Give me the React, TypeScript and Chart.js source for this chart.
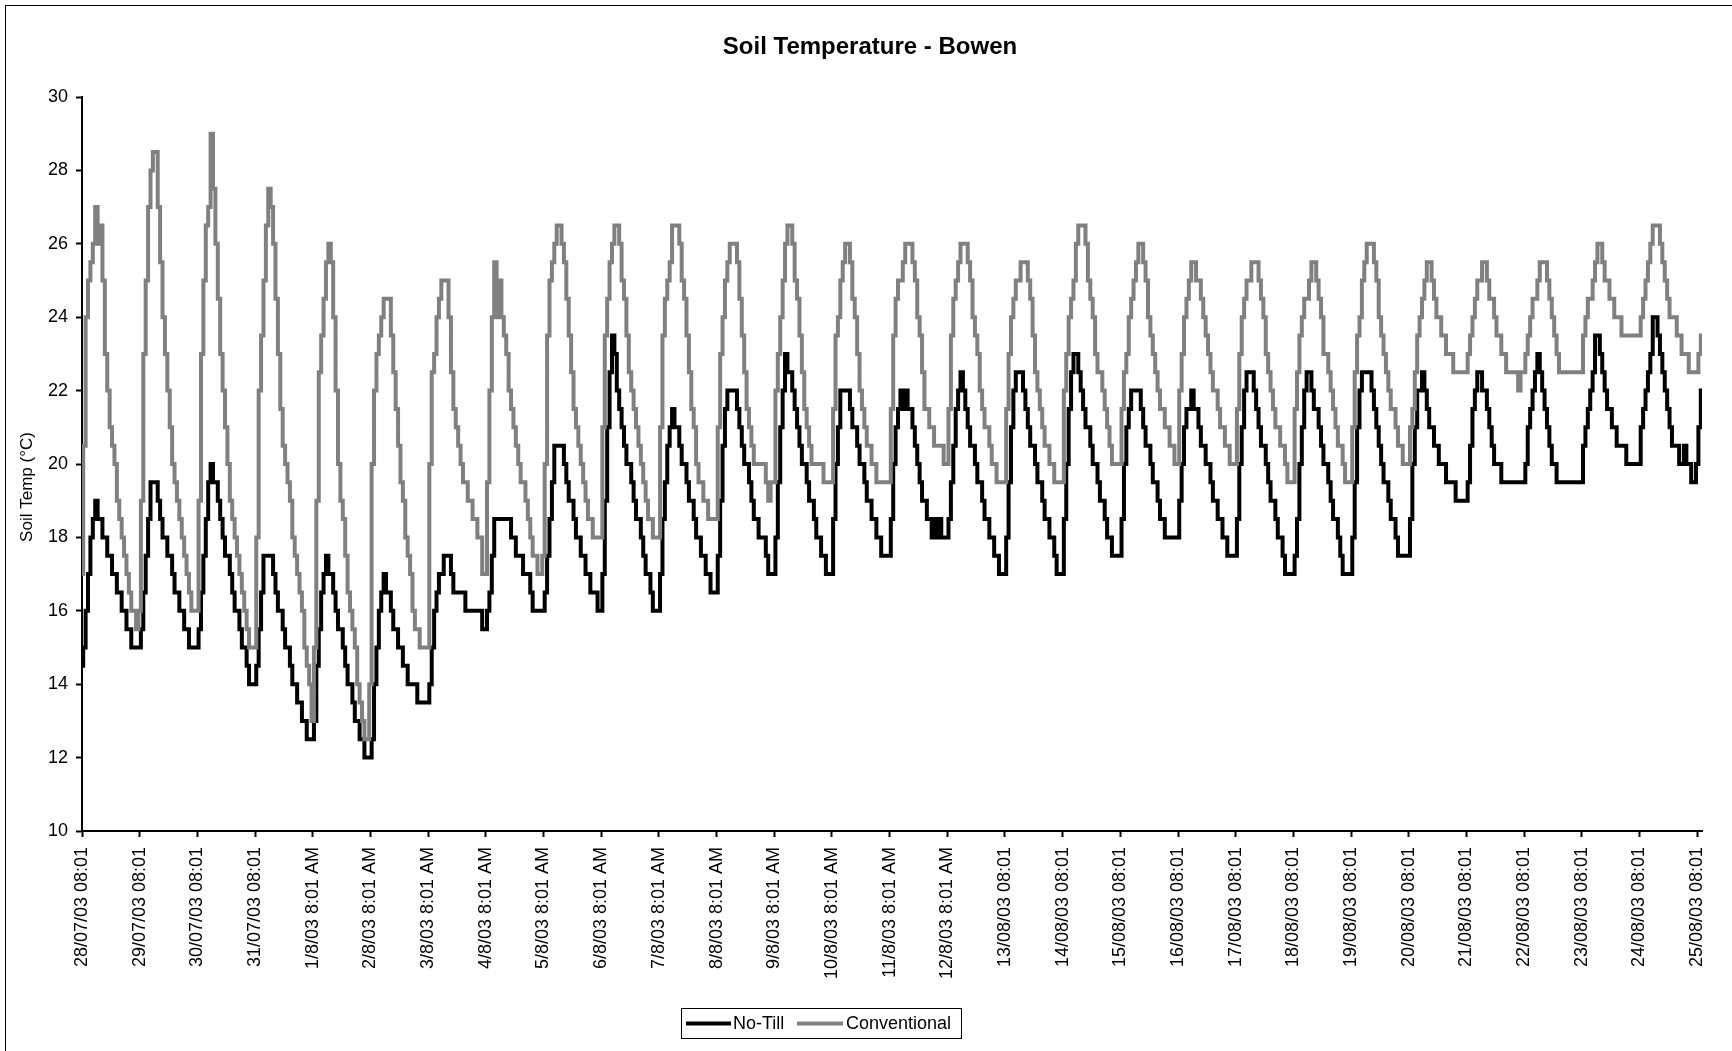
import { useEffect, useRef } from 'react';
import { Chart, registerables } from 'chart.js';

Chart.register(...registerables);

const FONT = '"Liberation Sans", Arial, sans-serif';
const CHART_TITLE = 'Soil Temperature - Bowen';
const Y_AXIS_TITLE = 'Soil Temp (°C)';
const SERIES_NAMES = ['No-Till', 'Conventional'];
const SERIES_COLORS = ['#000000', '#808080'];

// One label per day; readings are hourly, starting at 08:01 each day.
const HOURS_PER_DAY = 24;
const dayLabels = [
  '28/07/03 08:01', '29/07/03 08:01', '30/07/03 08:01', '31/07/03 08:01',
  '1/8/03 8:01 AM', '2/8/03 8:01 AM', '3/8/03 8:01 AM', '4/8/03 8:01 AM',
  '5/8/03 8:01 AM', '6/8/03 8:01 AM', '7/8/03 8:01 AM', '8/8/03 8:01 AM',
  '9/8/03 8:01 AM', '10/8/03 8:01 AM', '11/8/03 8:01 AM', '12/8/03 8:01 AM',
  '13/08/03 08:01', '14/08/03 08:01', '15/08/03 08:01', '16/08/03 08:01',
  '17/08/03 08:01', '18/08/03 08:01', '19/08/03 08:01', '20/08/03 08:01',
  '21/08/03 08:01', '22/08/03 08:01', '23/08/03 08:01', '24/08/03 08:01',
  '25/08/03 08:01',
];

const yTicks = [10, 12, 14, 16, 18, 20, 22, 24, 26, 28, 30];

// Hourly soil temperature (°C), No-Till plot
const noTill = [
  14.5, 15, 16, 17, 18, 18.5, 19, 18.5, 18.5, 18, 18, 17.5, 17.5, 17, 17, 16.5, 16.5, 16, 16, 15.5, 15.5, 15, 15, 15, // 28/07
  15, 15.5, 16.5, 17.5, 18.5, 19.5, 19.5, 19.5, 19, 18.5, 18, 18, 17.5, 17.5, 17, 16.5, 16.5, 16, 16, 15.5, 15.5, 15, 15, 15, // 29/07
  15, 15.5, 16.5, 17.5, 18.5, 19.5, 20, 19.5, 19.5, 19, 18.5, 18, 17.5, 17.5, 17, 16.5, 16, 16, 15.5, 15, 15, 14.5, 14, 14, // 30/07
  14, 14.5, 15.5, 16.5, 17.5, 17.5, 17.5, 17.5, 17, 16.5, 16, 16, 15.5, 15, 15, 14.5, 14, 14, 13.5, 13.5, 13, 13, 12.5, 12.5, // 31/07
  12.5, 13, 14.5, 15.5, 16.5, 17, 17.5, 17, 17, 16.5, 16, 15.5, 15.5, 15, 14.5, 14, 14, 13.5, 13, 13, 12.5, 12.5, 12, 12, // 1/8
  12, 12.5, 14, 15, 16, 16.5, 17, 16.5, 16.5, 16, 15.5, 15.5, 15, 15, 14.5, 14.5, 14, 14, 14, 14, 13.5, 13.5, 13.5, 13.5, // 2/8
  13.5, 14, 15, 16, 16.5, 17, 17, 17.5, 17.5, 17.5, 17, 16.5, 16.5, 16.5, 16.5, 16.5, 16, 16, 16, 16, 16, 16, 16, 15.5, // 3/8
  15.5, 16, 16.5, 17.5, 18.5, 18.5, 18.5, 18.5, 18.5, 18.5, 18.5, 18, 18, 17.5, 17.5, 17.5, 17, 17, 17, 16.5, 16, 16, 16, 16, // 4/8
  16, 16.5, 17.5, 18.5, 19.5, 20.5, 20.5, 20.5, 20.5, 20, 19.5, 19, 19, 18.5, 18, 18, 17.5, 17.5, 17, 17, 16.5, 16.5, 16.5, 16, // 5/8
  16, 17, 19, 21, 22.5, 23.5, 23, 22, 21.5, 21, 20.5, 20, 20, 19.5, 19, 18.5, 18.5, 18, 17.5, 17, 17, 16.5, 16, 16, // 6/8
  16, 17, 18.5, 19.5, 20.5, 21, 21.5, 21, 21, 20.5, 20, 20, 19.5, 19, 19, 18.5, 18, 18, 17.5, 17.5, 17, 17, 16.5, 16.5, // 7/8
  16.5, 17.5, 19, 20.5, 21.5, 22, 22, 22, 22, 21.5, 21, 20.5, 20, 20, 19.5, 19, 18.5, 18.5, 18, 18, 18, 17.5, 17, 17, // 8/8
  17, 18, 19.5, 21, 22, 23, 22.5, 22.5, 22, 21.5, 21, 20.5, 20, 20, 19.5, 19, 19, 18.5, 18, 18, 17.5, 17.5, 17, 17, // 9/8
  17, 18.5, 20, 21, 22, 22, 22, 22, 21.5, 21, 21, 20.5, 20, 20, 19.5, 19, 19, 18.5, 18.5, 18, 18, 17.5, 17.5, 17.5, // 10/8
  17.5, 18.5, 20, 21, 21.5, 22, 21.5, 22, 21.5, 21.5, 21, 20.5, 20, 19.5, 19, 19, 18.5, 18.5, 18, 18.5, 18, 18.5, 18, 18, // 11/8
  18, 18.5, 19.5, 20.5, 21.5, 22, 22.5, 22, 21.5, 21, 20.5, 20.5, 20, 19.5, 19.5, 19, 18.5, 18.5, 18, 18, 17.5, 17.5, 17, 17, // 12/8
  17, 18, 19.5, 21, 22, 22.5, 22.5, 22.5, 22, 21.5, 21, 20.5, 20.5, 20, 19.5, 19.5, 19, 18.5, 18.5, 18, 18, 17.5, 17, 17, // 13/08
  17, 18.5, 20, 21.5, 22.5, 23, 23, 22.5, 22, 21.5, 21, 21, 20.5, 20, 20, 19.5, 19, 19, 18.5, 18, 18, 17.5, 17.5, 17.5, // 14/08
  17.5, 18.5, 20, 21, 21.5, 22, 22, 22, 22, 21.5, 21, 20.5, 20.5, 20, 19.5, 19.5, 19, 18.5, 18.5, 18, 18, 18, 18, 18, // 15/08
  18, 19, 20, 21, 21.5, 21.5, 22, 21.5, 21.5, 21, 20.5, 20.5, 20, 20, 19.5, 19, 19, 18.5, 18.5, 18, 18, 17.5, 17.5, 17.5, // 16/08
  17.5, 18.5, 20, 21, 22, 22.5, 22.5, 22.5, 22, 21.5, 21, 20.5, 20.5, 20, 19.5, 19, 19, 18.5, 18, 18, 17.5, 17, 17, 17, // 17/08
  17, 17.5, 18.5, 20, 21, 22, 22.5, 22.5, 22, 21.5, 21.5, 21, 20.5, 20, 20, 19.5, 19, 18.5, 18.5, 18, 17.5, 17, 17, 17, // 18/08
  17, 18, 19.5, 21, 22, 22.5, 22.5, 22.5, 22.5, 22, 21.5, 21, 20.5, 20, 19.5, 19.5, 19, 18.5, 18.5, 18, 17.5, 17.5, 17.5, 17.5, // 19/08
  17.5, 18.5, 20, 21, 22, 22, 22.5, 22, 21.5, 21, 21, 20.5, 20.5, 20, 20, 20, 19.5, 19.5, 19.5, 19.5, 19, 19, 19, 19, // 20/08
  19, 19.5, 20.5, 21.5, 22, 22.5, 22.5, 22, 22, 21.5, 21, 20.5, 20, 20, 20, 19.5, 19.5, 19.5, 19.5, 19.5, 19.5, 19.5, 19.5, 19.5, // 21/08
  19.5, 20, 21, 21.5, 22, 22.5, 23, 22.5, 22, 21.5, 21, 20.5, 20, 20, 19.5, 19.5, 19.5, 19.5, 19.5, 19.5, 19.5, 19.5, 19.5, 19.5, // 22/08
  19.5, 20.5, 21, 21.5, 22, 22.5, 23.5, 23.5, 23, 22.5, 22, 21.5, 21.5, 21, 21, 20.5, 20.5, 20.5, 20.5, 20, 20, 20, 20, 20, // 23/08
  20, 21, 21.5, 22, 22.5, 23, 24, 24, 23.5, 23, 22.5, 22, 21.5, 21, 20.5, 20.5, 20.5, 20, 20, 20.5, 20, 20, 19.5, 19.5, // 24/08
  20, 21, 22, // 25/08
];

// Hourly soil temperature (°C), conventionally tilled plot
const conventional = [
  17, 20.5, 24, 25, 25.5, 26, 27, 26, 26.5, 25, 23, 22, 21, 20.5, 20, 19, 18.5, 18, 17.5, 17, 16.5, 16, 16, 15.5, // 28/07
  16, 19, 23, 25, 27, 28, 28.5, 28.5, 27, 25.5, 24, 23, 22, 21, 20, 19.5, 19, 18.5, 18, 17.5, 17, 16.5, 16, 16, // 29/07
  16, 19, 23, 25, 26.5, 27, 29, 27.5, 26, 24.5, 23, 22, 21, 20, 19, 18.5, 18, 17.5, 17, 16.5, 16, 15.5, 15, 15, // 30/07
  15, 18, 22, 23.5, 25, 26.5, 27.5, 27, 26, 24.5, 23, 21.5, 20.5, 20, 19.5, 19, 18, 17.5, 17, 16.5, 16, 15, 14.5, 14, // 31/07
  13, 15, 19, 22.5, 23.5, 24.5, 25.5, 26, 25.5, 24, 22, 20, 19, 18.5, 17.5, 16.5, 16, 15.5, 15, 14, 13.5, 13, 12.5, 12.5, // 1/8
  14, 20, 22, 23, 23.5, 24, 24.5, 24.5, 24.5, 23.5, 22.5, 21.5, 20.5, 19.5, 19, 18, 17.5, 17, 16, 15.5, 15.5, 15, 15, 15, // 2/8
  15, 20, 22.5, 23, 24, 24.5, 25, 25, 25, 24, 22.5, 21.5, 21, 20.5, 20, 19.5, 19.5, 19, 19, 18.5, 18.5, 18, 18, 17, // 3/8
  17, 19.5, 22, 24, 25.5, 24, 25, 24, 23.5, 23, 22, 21.5, 21, 20.5, 20, 19.5, 19.5, 19, 18.5, 18, 17.5, 17.5, 17, 17, // 4/8
  17.5, 20, 23.5, 25, 25.5, 26, 26.5, 26.5, 26, 25.5, 24.5, 23.5, 22.5, 21.5, 21, 20.5, 20, 19.5, 19, 18.5, 18.5, 18, 18, 18, // 5/8
  18, 21, 23.5, 24.5, 25.5, 26, 26.5, 26.5, 26, 25, 24.5, 23.5, 22.5, 22, 21.5, 21, 20.5, 20, 19.5, 19, 18.5, 18.5, 18, 18, // 6/8
  18, 21, 23.5, 24.5, 25, 25.5, 26.5, 26.5, 26.5, 26, 25, 24.5, 23.5, 22.5, 21.5, 21, 20, 19.5, 19.5, 19, 19, 18.5, 18.5, 18.5, // 7/8
  18.5, 21, 23, 24, 25, 25.5, 26, 26, 26, 25.5, 24.5, 23.5, 22.5, 21.5, 21, 20.5, 20, 20, 20, 20, 20, 19.5, 19, 19.5, // 8/8
  19.5, 22, 23, 24, 25, 26, 26.5, 26.5, 26, 25, 24.5, 23.5, 22.5, 21.5, 21, 20.5, 20, 20, 20, 20, 20, 19.5, 19.5, 19.5, // 9/8
  19.5, 21.5, 23.5, 24, 25, 25.5, 26, 26, 25.5, 24.5, 24, 23, 22, 21.5, 21, 20.5, 20.5, 20, 20, 19.5, 19.5, 19.5, 19.5, 19.5, // 10/8
  19.5, 21.5, 23.5, 24.5, 25, 25, 25.5, 26, 26, 26, 25.5, 25, 24, 23.5, 22.5, 21.5, 21.5, 21, 21, 20.5, 20.5, 20.5, 20.5, 20, // 11/8
  20, 21.5, 23.5, 24.5, 25, 25.5, 26, 26, 26, 25.5, 25, 24, 23.5, 23, 22, 21.5, 21, 21, 20.5, 20, 20, 19.5, 19.5, 19.5, // 12/8
  19.5, 21.5, 23, 24, 24.5, 25, 25, 25.5, 25.5, 25.5, 25, 24.5, 23.5, 22.5, 22, 21.5, 21, 20.5, 20.5, 20, 20, 19.5, 19.5, 19.5, // 13/08
  19.5, 22, 23, 24, 24.5, 25, 26, 26.5, 26.5, 26.5, 26, 25, 24.5, 24, 23, 22.5, 22.5, 22, 21.5, 21, 20.5, 20, 20, 20, // 14/08
  20, 21.5, 22.5, 23, 24, 24.5, 25, 25.5, 26, 26, 25.5, 25, 24, 23.5, 23, 22.5, 22, 21.5, 21.5, 21, 21, 20.5, 20.5, 20, // 15/08
  20, 22, 23, 24, 24.5, 25, 25.5, 25.5, 25, 25, 24.5, 24, 23.5, 23, 22.5, 22, 22, 21.5, 21, 21, 20.5, 20.5, 20, 20, // 16/08
  20, 21.5, 23, 24, 24.5, 25, 25, 25.5, 25.5, 25.5, 25, 24.5, 24, 23, 22.5, 22, 21.5, 21, 21, 20.5, 20.5, 20, 19.5, 19.5, // 17/08
  19.5, 21.5, 22.5, 23.5, 24, 24.5, 24.5, 25, 25.5, 25.5, 25, 24.5, 24, 23, 23, 22.5, 22, 21.5, 21, 20.5, 20.5, 20, 19.5, 19.5, // 18/08
  19.5, 21, 22.5, 23.5, 24, 25, 25.5, 26, 26, 26, 25.5, 25, 24, 23.5, 23, 22.5, 22, 21.5, 21.5, 21, 20.5, 20.5, 20, 20, // 19/08
  20, 21, 21.5, 22.5, 23.5, 24, 24.5, 25, 25.5, 25.5, 25, 24.5, 24, 24, 23.5, 23.5, 23, 23, 23, 22.5, 22.5, 22.5, 22.5, 22.5, // 20/08
  22.5, 23, 23.5, 24, 24.5, 25, 25, 25.5, 25.5, 25, 24.5, 24.5, 24, 23.5, 23.5, 23, 23, 22.5, 22.5, 22.5, 22.5, 22.5, 22, 22.5, // 21/08
  22.5, 23, 23.5, 24, 24.5, 24.5, 25, 25.5, 25.5, 25.5, 25, 24.5, 24, 23.5, 23, 22.5, 22.5, 22.5, 22.5, 22.5, 22.5, 22.5, 22.5, 22.5, // 22/08
  22.5, 23.5, 24, 24.5, 24.5, 25, 25.5, 26, 26, 25.5, 25, 25, 24.5, 24.5, 24, 24, 24, 23.5, 23.5, 23.5, 23.5, 23.5, 23.5, 23.5, // 23/08
  23.5, 24, 24.5, 25, 25.5, 26, 26.5, 26.5, 26.5, 26, 25.5, 25, 24.5, 24, 24, 24, 23.5, 23.5, 23, 23, 23, 22.5, 22.5, 22.5, // 24/08
  22.5, 23, 23.5, // 25/08
];

const toPoints = (values: number[]) => values.map((y, x) => ({ x, y }));

// Outer frame, title, y-axis caption and boxed legend
const framePlugin = {
  id: 'chartFrame',
  afterDraw(chart: any) {
    const ctx = chart.ctx as CanvasRenderingContext2D;
    ctx.save();

    ctx.strokeStyle = '#000';
    ctx.lineWidth = 1;
    ctx.strokeRect(5.5, 5.5, chart.width + 50, chart.height + 50);

    ctx.fillStyle = '#000';
    ctx.textAlign = 'center';
    ctx.textBaseline = 'middle';
    ctx.font = `bold 24px ${FONT}`;
    ctx.fillText(CHART_TITLE, 870, 47);

    ctx.save();
    ctx.translate(27, 487);
    ctx.rotate(-Math.PI / 2);
    ctx.font = `17px ${FONT}`;
    ctx.fillText(Y_AXIS_TITLE, 0, 0);
    ctx.restore();

    // legend
    const boxX = 681.5, boxY = 1008.5, boxW = 280, boxH = 30;
    ctx.lineWidth = 1;
    ctx.strokeStyle = '#000';
    ctx.strokeRect(boxX, boxY, boxW, boxH);
    const midY = boxY + boxH / 2;
    const items = [
      { x0: 686, x1: 731, tx: 733 },
      { x0: 797, x1: 843, tx: 846 },
    ];
    ctx.font = `18px ${FONT}`;
    ctx.textAlign = 'left';
    items.forEach((it, i) => {
      ctx.strokeStyle = SERIES_COLORS[i];
      ctx.lineWidth = 4;
      ctx.beginPath();
      ctx.moveTo(it.x0, midY);
      ctx.lineTo(it.x1, midY);
      ctx.stroke();
      ctx.fillStyle = '#000';
      ctx.fillText(SERIES_NAMES[i], it.tx, midY + 1);
    });

    ctx.restore();
  },
};

export default function App() {
  const canvasRef = useRef<HTMLCanvasElement>(null);

  useEffect(() => {
    const canvas = canvasRef.current;
    if (!canvas) return;

    const axisFont = { family: FONT, size: 18 };
    const tickGrid = {
      drawOnChartArea: false,
      drawTicks: true,
      tickLength: 6,
      tickWidth: 2,
      tickColor: '#000',
    };
    const axisBorder = { display: true, color: '#000', width: 2 };

    const chart = new Chart(canvas, {
      type: 'line',
      data: {
        datasets: [
          {
            label: SERIES_NAMES[0],
            data: toPoints(noTill),
            borderColor: SERIES_COLORS[0],
            backgroundColor: SERIES_COLORS[0],
            borderWidth: 4,
            pointRadius: 0,
            stepped: 'middle',
            fill: false,
            order: 1,
          },
          {
            label: SERIES_NAMES[1],
            data: toPoints(conventional),
            borderColor: SERIES_COLORS[1],
            backgroundColor: SERIES_COLORS[1],
            borderWidth: 4,
            pointRadius: 0,
            stepped: 'middle',
            fill: false,
            order: 0,
          },
        ],
      },
      options: {
        responsive: false,
        animation: false,
        events: [],
        layout: { padding: { top: 97, right: 30, bottom: 0, left: 0 } },
        plugins: {
          legend: { display: false },
          title: { display: false },
          tooltip: { enabled: false },
        },
        scales: {
          x: {
            type: 'linear',
            min: 0,
            max: noTill.length - 1,
            afterBuildTicks: (scale: any) => {
              scale.ticks = dayLabels.map((_, i) => ({ value: i * HOURS_PER_DAY }));
            },
            afterFit: (scale: any) => {
              scale.height = 220;
            },
            ticks: {
              autoSkip: false,
              minRotation: 90,
              maxRotation: 90,
              padding: 10,
              color: '#000',
              font: axisFont,
              callback: (_v: any, index: number) => dayLabels[index],
            },
            grid: tickGrid,
            border: axisBorder,
          },
          y: {
            type: 'linear',
            min: 10,
            max: 30,
            afterBuildTicks: (scale: any) => {
              scale.ticks = yTicks.map((v) => ({ value: v }));
            },
            afterFit: (scale: any) => {
              scale.width = 82;
            },
            ticks: {
              padding: 8,
              color: '#000',
              font: axisFont,
            },
            grid: tickGrid,
            border: axisBorder,
          },
        },
      },
      plugins: [framePlugin],
    } as any);

    return () => chart.destroy();
  }, []);

  return (
    <div style={{ position: 'fixed', left: 0, top: 0, width: 1732, height: 1051, background: '#fff' }}>
      <canvas ref={canvasRef} width={1732} height={1051} style={{ display: 'block', width: 1732, height: 1051 }} />
    </div>
  );
}
